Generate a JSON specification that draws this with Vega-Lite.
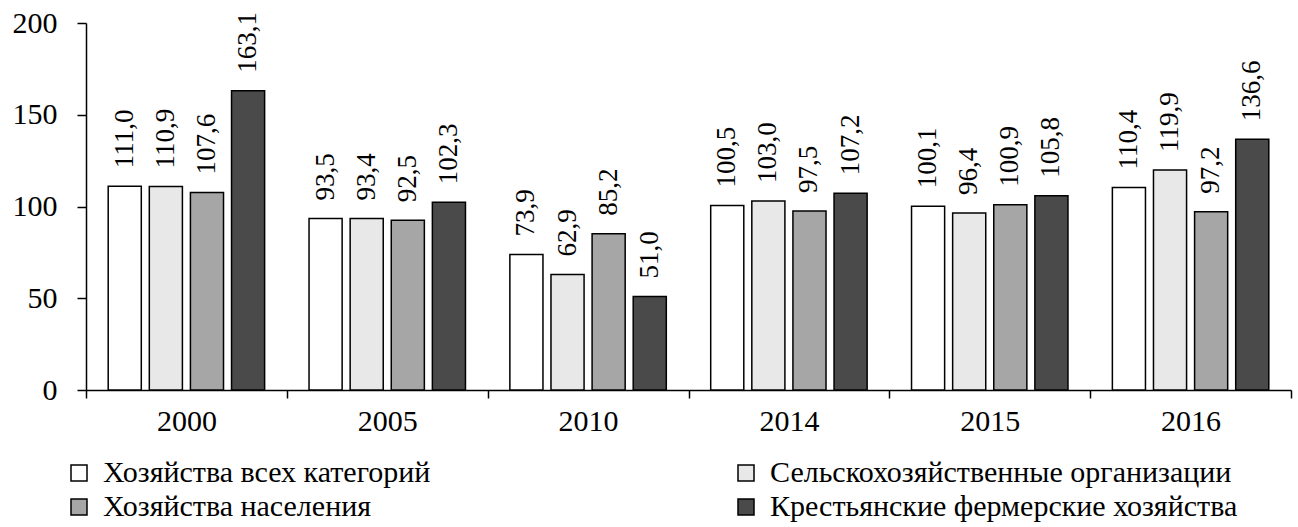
{
  "$schema": "https://vega.github.io/schema/vega-lite/v6.json",
  "width": 1205,
  "height": 367,
  "autosize": {"type": "none"},
  "padding": {"left": 86, "top": 23, "right": 7, "bottom": 137},
  "config": {
    "locale": {"number": {"decimal": ",", "thousands": " ", "grouping": [3], "currency": ["", ""]}},
    "view": {"stroke": null},
    "font": "'Liberation Serif', 'DejaVu Serif', serif",
    "axis": {"labelFont": "'Liberation Serif', 'DejaVu Serif', serif", "labelColor": "black", "domainColor": "black", "tickColor": "black", "domainWidth": 1.5, "tickWidth": 1.5, "grid": false, "title": null},
    "legend": {"labelFont": "'Liberation Serif', 'DejaVu Serif', serif"},
    "text": {"font": "'Liberation Serif', 'DejaVu Serif', serif"}
  },
  "data": {
    "values": [
      {"year": "2000", "cat": "Хозяйства всех категорий", "v": 111.0},
      {"year": "2000", "cat": "Сельскохозяйственные организации", "v": 110.9},
      {"year": "2000", "cat": "Хозяйства населения", "v": 107.6},
      {"year": "2000", "cat": "Крестьянские фермерские хозяйства", "v": 163.1},
      {"year": "2005", "cat": "Хозяйства всех категорий", "v": 93.5},
      {"year": "2005", "cat": "Сельскохозяйственные организации", "v": 93.4},
      {"year": "2005", "cat": "Хозяйства населения", "v": 92.5},
      {"year": "2005", "cat": "Крестьянские фермерские хозяйства", "v": 102.3},
      {"year": "2010", "cat": "Хозяйства всех категорий", "v": 73.9},
      {"year": "2010", "cat": "Сельскохозяйственные организации", "v": 62.9},
      {"year": "2010", "cat": "Хозяйства населения", "v": 85.2},
      {"year": "2010", "cat": "Крестьянские фермерские хозяйства", "v": 51.0},
      {"year": "2014", "cat": "Хозяйства всех категорий", "v": 100.5},
      {"year": "2014", "cat": "Сельскохозяйственные организации", "v": 103.0},
      {"year": "2014", "cat": "Хозяйства населения", "v": 97.5},
      {"year": "2014", "cat": "Крестьянские фермерские хозяйства", "v": 107.2},
      {"year": "2015", "cat": "Хозяйства всех категорий", "v": 100.1},
      {"year": "2015", "cat": "Сельскохозяйственные организации", "v": 96.4},
      {"year": "2015", "cat": "Хозяйства населения", "v": 100.9},
      {"year": "2015", "cat": "Крестьянские фермерские хозяйства", "v": 105.8},
      {"year": "2016", "cat": "Хозяйства всех категорий", "v": 110.4},
      {"year": "2016", "cat": "Сельскохозяйственные организации", "v": 119.9},
      {"year": "2016", "cat": "Хозяйства населения", "v": 97.2},
      {"year": "2016", "cat": "Крестьянские фермерские хозяйства", "v": 136.6}
    ]
  },
  "encoding": {
    "x": {
      "field": "year", "type": "nominal",
      "scale": {"paddingInner": 0, "paddingOuter": 0},
      "axis": {"labelAngle": 0, "tickBand": "extent", "labelFontSize": 30, "tickSize": 8, "labelPadding": 8}
    },
    "xOffset": {
      "field": "cat", "type": "nominal",
      "sort": ["Хозяйства всех категорий", "Сельскохозяйственные организации", "Хозяйства населения", "Крестьянские фермерские хозяйства"],
      "scale": {"paddingInner": 0.195, "paddingOuter": 0.54}
    },
    "y": {
      "field": "v", "type": "quantitative",
      "scale": {"domain": [0, 200]},
      "axis": {"values": [0, 50, 100, 150, 200], "labelFontSize": 30, "tickSize": 9, "labelPadding": 20}
    }
  },
  "layer": [
    {
      "mark": {"type": "bar", "stroke": "black", "strokeWidth": 1.5},
      "encoding": {
        "fill": {
          "field": "cat", "type": "nominal",
          "scale": {
            "domain": ["Хозяйства всех категорий", "Хозяйства населения", "Сельскохозяйственные организации", "Крестьянские фермерские хозяйства"],
            "range": ["#ffffff", "#a6a6a6", "#e8e8e8", "#4a4a4a"]
          },
          "legend": {
            "orient": "none", "legendX": -22, "legendY": 435, "columns": 2, "columnPadding": 300, "rowPadding": 4,
            "symbolType": "square", "symbolSize": 256, "symbolStrokeWidth": 1.5, "symbolStrokeColor": "black",
            "labelFontSize": 30, "labelColor": "black", "labelLimit": 0,
            "title": null, "labelOffset": 9, "padding": 0
          }
        }
      }
    },
    {
      "mark": {"type": "text", "angle": -90, "align": "left", "baseline": "middle", "dx": 18, "fontSize": 27, "color": "black"},
      "encoding": {"text": {"field": "v", "type": "quantitative", "format": ".1f"}}
    }
  ]
}
